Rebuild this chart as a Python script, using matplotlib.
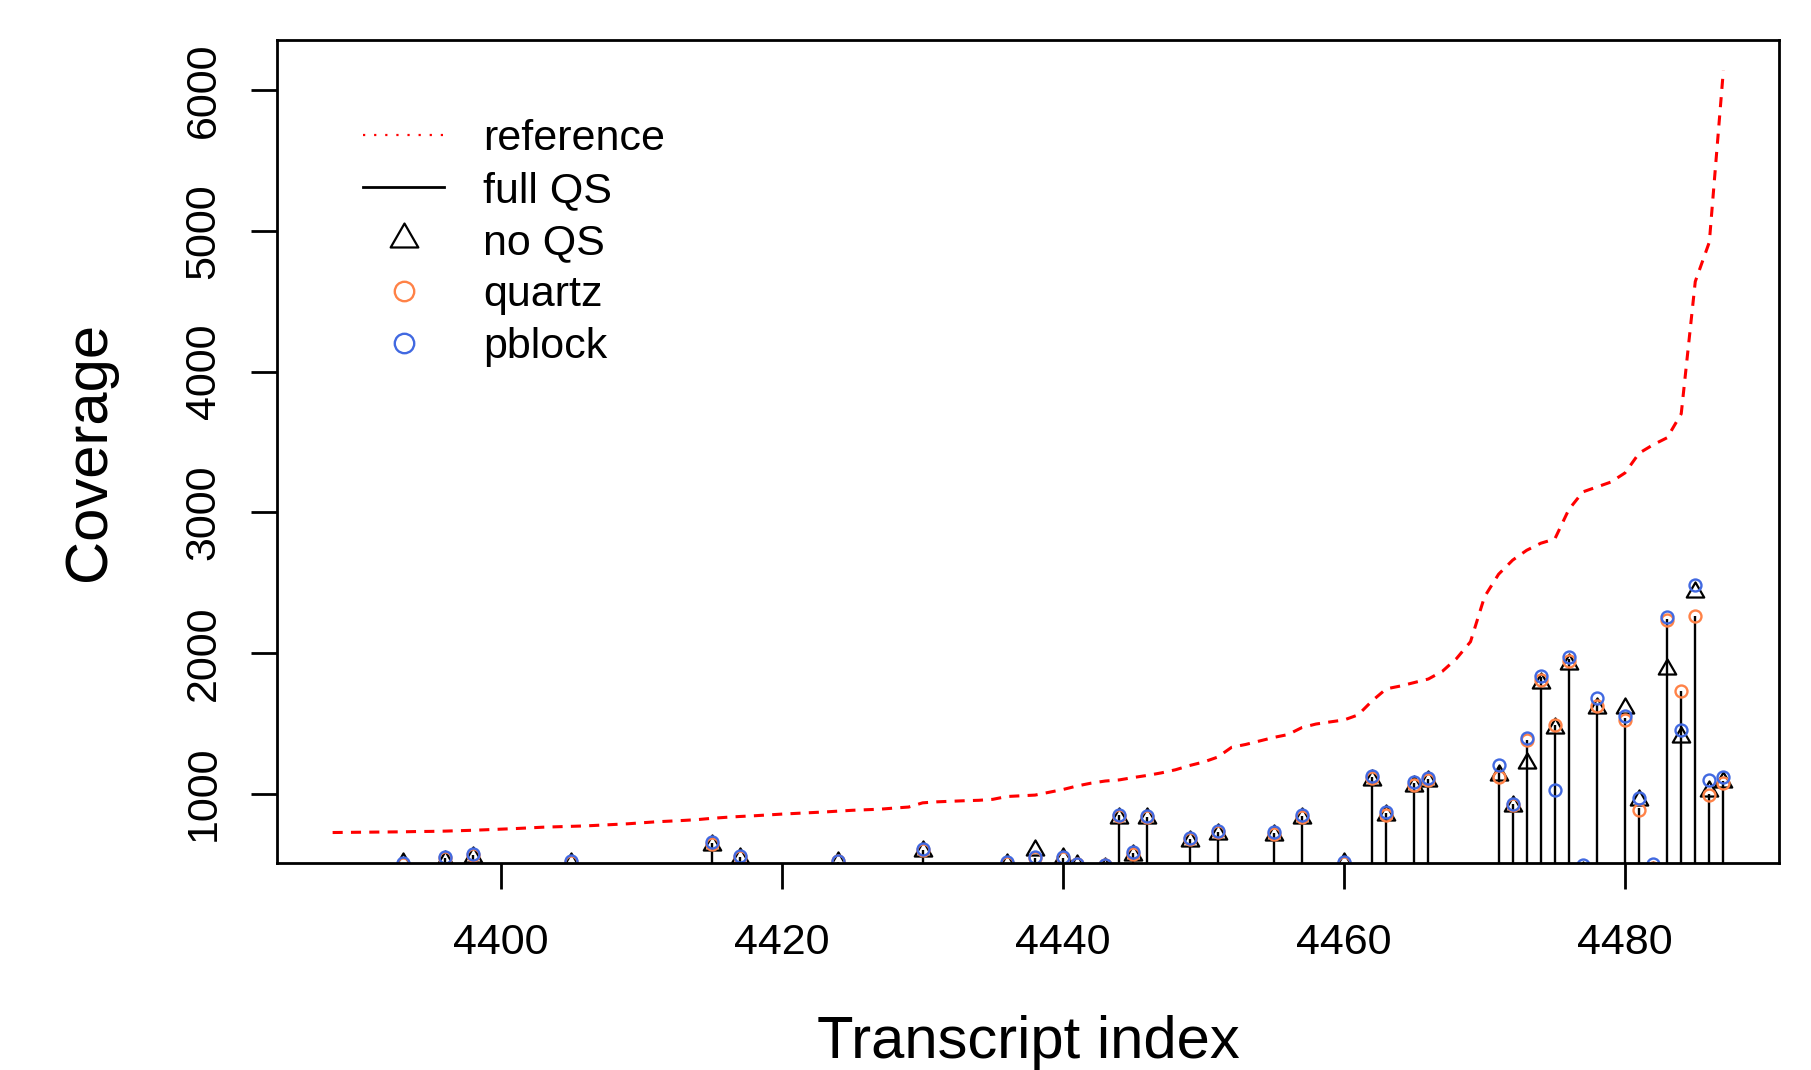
import numpy as np
import matplotlib
matplotlib.use('agg')
import matplotlib.pyplot as plt
from matplotlib.path import Path
from matplotlib.lines import Line2D

plt.rcParams['font.family'] = ['Liberation Sans', 'DejaVu Sans']

# reference coverage, one value per transcript index starting at 4388
ref_start = 4388
reference = [724, 725, 726, 727, 728, 729, 731, 732, 734, 737,
             740, 744, 748, 752, 757, 762, 765, 768, 771, 776,
             781, 786, 793, 800, 805, 810, 816, 825, 832, 838,
             843, 849, 855, 860, 865, 870, 876, 882, 886, 890,
             898, 905, 935, 942, 946, 950, 953, 960, 980, 985,
             990, 1010, 1030, 1055, 1075, 1090, 1098, 1115, 1130, 1148,
             1170, 1200, 1225, 1260, 1330, 1350, 1375, 1400, 1420, 1470,
             1495, 1510, 1524, 1560, 1660, 1745, 1765, 1790, 1815, 1870,
             1960, 2080, 2400, 2560, 2660, 2730, 2780, 2810, 3020, 3145,
             3180, 3215, 3280, 3420, 3480, 3530, 3700, 4640, 4920, 6140]

# transcripts with coverage visible above the axis floor
idx = [4393, 4396, 4398, 4405, 4415, 4417, 4424, 4430, 4436, 4438,
       4440, 4441, 4443, 4444, 4445, 4446, 4449, 4451, 4455, 4457,
       4460, 4462, 4463, 4465, 4466, 4471, 4472, 4473, 4474, 4475,
       4476, 4477, 4478, 4480, 4481, 4482, 4483, 4484, 4485, 4486, 4487]
full_qs = [490, 540, 565, 505, 650, 550, 515, 600, 505, 545,
           545, 495, 490, 845, 575, 835, 680, 730, 720, 840,
           505, 1120, 860, 1075, 1105, 1190, 925, 1385, 1826, 1489,
           1960, 450, 1640, 1540, 900, 450, 2240, 1731, 2262, 1000, 1090]
no_qs = [505, 525, 550, 510, 635, 540, 515, 595, 500, 597,
         540, 490, 475, 828, 563, 830, 662, 716, 705, 826,
         505, 1095, 845, 1058, 1090, 1130, 910, 1220, 1790, 1470,
         1920, 440, 1608, 1608, 954, 440, 1886, 1405, 2432, 1020, 1080]
quartz = [498, 540, 565, 515, 645, 550, 520, 600, 510, 545,
          545, 500, 493, 840, 572, 832, 675, 728, 712, 835,
          508, 1110, 850, 1065, 1100, 1120, 920, 1380, 1810, 1489,
          1945, 460, 1620, 1524, 881, 470, 2231, 1731, 2262, 989, 1073]
pblock = [505, 548, 570, 520, 655, 560, 525, 605, 515, 549,
          550, 498, 496, 848, 583, 840, 685, 738, 725, 845,
          512, 1125, 868, 1080, 1112, 1205, 930, 1395, 1835, 1025,
          1975, 490, 1679, 1555, 966, 500, 2257, 1453, 2480, 1096, 1120]

x_ticks = [4400, 4420, 4440, 4460, 4480]
y_ticks = [1000, 2000, 3000, 4000, 5000, 6000]

ref_x = np.arange(ref_start, ref_start + len(reference))

# R style triangle (pch=2), centred on its centroid
tri = Path([(0, 1), (-0.866, -0.5), (0.866, -0.5), (0, 1)],
           [Path.MOVETO, Path.LINETO, Path.LINETO, Path.CLOSEPOLY])
orange = '#FF8247'
blue = '#4169E1'

fig = plt.figure(figsize=(18.11, 10.70), dpi=100)
ax = fig.add_axes([277/1811, 1 - 863/1070, 1502/1811, 823/1070])

ax.plot(ref_x, reference, color='red', lw=2.2, linestyle=(0, (3.3, 2.7)))
ax.vlines(idx, 0, full_qs, color='black', lw=1.7)
ax.plot(idx, no_qs, ls='none', marker=tri, ms=14.5, mfc='none', mec='black', mew=1.6)
ax.plot(idx, quartz, ls='none', marker='o', ms=8.6, mfc='none', mec=orange, mew=1.7)
ax.plot(idx, pblock, ls='none', marker='o', ms=8.6, mfc='none', mec=blue, mew=1.7)

# R default axis padding (4%)
xr = ref_x[-1] - ref_x[0]
ax.set_xlim(ref_x[0] - 0.04*xr, ref_x[-1] + 0.04*xr)
yr = max(reference) - min(reference)
ax.set_ylim(min(reference) - 0.04*yr, max(reference) + 0.04*yr)

ax.set_xticks(x_ticks)
ax.set_yticks(y_ticks)
ax.set_yticklabels([str(v) for v in y_ticks], rotation=90, va='center')
ax.tick_params(length=18.5, width=2, labelsize=31, color='black')
ax.tick_params(axis='x', pad=25)
ax.tick_params(axis='y', pad=20)
for s in ax.spines.values():
    s.set_linewidth(2)

ax.set_xlabel('Transcript index', fontsize=43, va='center')
ax.xaxis.set_label_coords(0.5, (863 - 1043) / 823)
ax.set_ylabel('Coverage', fontsize=43, va='center')
ax.yaxis.set_label_coords((90 - 277) / 1502, 0.5)

handles = [Line2D([], [], color='red', lw=1.6, linestyle=(0, (1, 4))),
           Line2D([], [], color='black', lw=2),
           Line2D([], [], ls='none', marker=tri, ms=23, mfc='none', mec='black', mew=1.6),
           Line2D([], [], ls='none', marker='o', ms=14, mfc='none', mec=orange, mew=1.7),
           Line2D([], [], ls='none', marker='o', ms=14, mfc='none', mec=blue, mew=1.7)]
labels = ['reference', 'full QS', 'no QS', 'quartz', 'pblock']
ax.legend(handles, labels, loc='upper left', bbox_to_anchor=(0.0573, 0.904),
          frameon=False, fontsize=31, handlelength=1.88, handletextpad=0.9,
          labelspacing=0.28, borderpad=0, borderaxespad=0)

fig.savefig('out.png', dpi=100)
